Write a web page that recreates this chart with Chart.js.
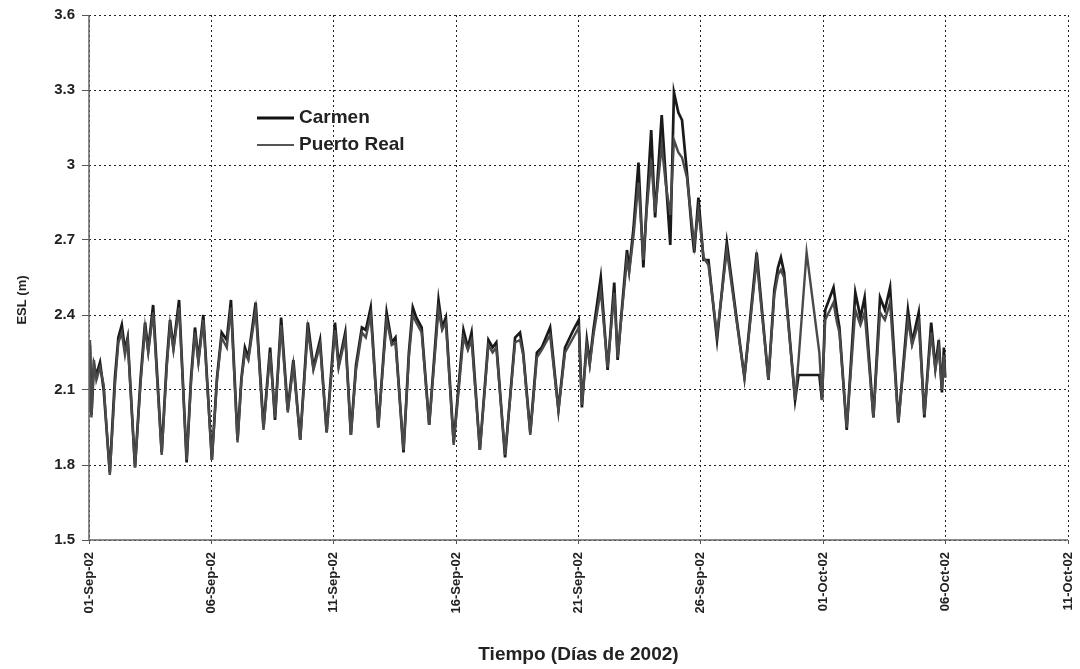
<!DOCTYPE html>
<html>
<head>
<meta charset="utf-8">
<script src="https://cdn.jsdelivr.net/npm/chart.js@4.4.1/dist/chart.umd.min.js"></script>
<style>
html,body{margin:0;padding:0;background:#fff;}
canvas{display:block;}
</style>
</head>
<body>
<canvas id="c" width="1080" height="669"></canvas>
<script>
// ---- data (time in days since 01-Sep-2002, ESL in metres) ----
const days = [0.00,0.04,0.10,0.20,0.30,0.45,0.60,0.85,1.06,1.20,1.34,1.47,1.58,1.88,2.11,2.29,2.42,2.62,2.97,3.17,3.31,3.45,3.68,3.99,4.17,4.33,4.47,4.67,5.02,5.23,5.42,5.63,5.80,6.07,6.23,6.37,6.51,6.81,7.13,7.40,7.60,7.85,8.12,8.35,8.63,8.94,9.17,9.44,9.71,10.05,10.20,10.47,10.70,10.91,11.15,11.31,11.51,11.82,12.16,12.37,12.52,12.85,13.07,13.23,13.37,13.59,13.90,14.28,14.43,14.58,14.90,15.30,15.48,15.63,15.97,16.32,16.49,16.64,17.00,17.41,17.61,17.74,18.03,18.30,18.50,18.84,19.18,19.45,19.79,20.01,20.14,20.34,20.46,20.61,20.91,21.19,21.46,21.60,21.76,21.98,22.07,22.25,22.45,22.65,22.77,22.97,23.13,23.40,23.57,23.75,23.90,24.08,24.23,24.43,24.63,24.73,24.90,25.11,25.31,25.66,26.06,26.44,26.78,27.28,27.76,28.00,28.15,28.27,28.40,28.85,28.99,29.32,29.84,29.95,30.08,30.42,30.56,30.66,30.96,31.31,31.52,31.69,32.05,32.32,32.52,32.73,33.07,33.46,33.63,33.90,34.13,34.41,34.58,34.72,34.85,34.93,34.98];

const carmen = [2.05,2.28,2.00,2.20,2.16,2.21,2.10,1.77,2.15,2.31,2.36,2.26,2.31,1.79,2.15,2.37,2.26,2.44,1.85,2.20,2.38,2.27,2.46,1.81,2.15,2.35,2.22,2.40,1.82,2.15,2.33,2.30,2.46,1.90,2.15,2.27,2.23,2.45,1.95,2.27,1.98,2.39,2.02,2.22,1.90,2.37,2.19,2.30,1.93,2.37,2.20,2.33,1.92,2.20,2.35,2.34,2.43,1.95,2.41,2.29,2.31,1.85,2.25,2.43,2.39,2.35,1.96,2.46,2.35,2.39,1.89,2.34,2.27,2.33,1.86,2.30,2.27,2.29,1.83,2.31,2.33,2.25,1.93,2.25,2.27,2.35,2.02,2.27,2.34,2.38,2.03,2.30,2.21,2.34,2.55,2.18,2.53,2.22,2.41,2.66,2.58,2.75,3.01,2.59,2.81,3.14,2.79,3.20,2.94,2.68,3.29,3.21,3.18,2.97,2.74,2.65,2.87,2.62,2.62,2.30,2.69,2.40,2.15,2.65,2.14,2.50,2.59,2.63,2.57,2.06,2.16,2.16,2.16,2.06,2.42,2.51,2.41,2.35,1.94,2.49,2.39,2.47,1.99,2.47,2.42,2.51,1.97,2.42,2.29,2.41,1.99,2.37,2.19,2.30,2.09,2.27,2.15];

const puertoReal = [2.02,2.30,1.99,2.22,2.14,2.19,2.12,1.76,2.12,2.29,2.33,2.24,2.30,1.79,2.13,2.35,2.25,2.41,1.84,2.18,2.36,2.26,2.43,1.82,2.13,2.33,2.21,2.38,1.82,2.14,2.31,2.27,2.43,1.89,2.14,2.25,2.22,2.42,1.94,2.25,1.99,2.36,2.01,2.20,1.90,2.34,2.18,2.28,1.93,2.34,2.19,2.31,1.92,2.18,2.33,2.31,2.40,1.95,2.38,2.28,2.29,1.86,2.23,2.40,2.37,2.33,1.96,2.42,2.34,2.37,1.88,2.31,2.26,2.30,1.86,2.28,2.25,2.27,1.84,2.29,2.30,2.24,1.92,2.23,2.26,2.32,2.02,2.25,2.31,2.35,2.04,2.28,2.20,2.32,2.50,2.19,2.49,2.23,2.40,2.62,2.57,2.72,2.93,2.62,2.80,3.02,2.81,3.08,2.92,2.80,3.10,3.05,3.03,2.95,2.77,2.68,2.82,2.63,2.60,2.32,2.66,2.39,2.15,2.62,2.14,2.48,2.56,2.58,2.55,2.06,2.22,2.65,2.25,2.06,2.38,2.45,2.37,2.33,1.95,2.42,2.36,2.41,1.99,2.41,2.38,2.45,1.97,2.38,2.28,2.37,2.00,2.33,2.18,2.27,2.10,2.24,2.15];

const xTickLabels = ['01-Sep-02','06-Sep-02','11-Sep-02','16-Sep-02','21-Sep-02','26-Sep-02','01-Oct-02','06-Oct-02','11-Oct-02'];
const yTickLabels = ['1.5','1.8','2.1','2.4','2.7','3','3.3','3.6'];
const seriesNames = ['Carmen','Puerto Real'];
const xTitle = 'Tiempo (Días de 2002)';
const yTitle = 'ESL (m)';

const FONT = '"Liberation Sans", Arial, Helvetica, sans-serif';

function pts(vals){ return vals.map((v,i)=>({x:days[i], y:v})); }

const overlay = {
  id:'overlay',
  afterDraw(chart){
    const ctx = chart.ctx;
    const a = chart.chartArea;
    ctx.save();
    // solid axis lines
    ctx.strokeStyle = '#666'; ctx.lineWidth = 1.5; ctx.setLineDash([]);
    ctx.beginPath();
    ctx.moveTo(a.left, a.top); ctx.lineTo(a.left, a.bottom); ctx.lineTo(a.right, a.bottom);
    ctx.stroke();
    // legend
    const items = [
      {name:seriesNames[0], color:'#111', w:2.8, y:118},
      {name:seriesNames[1], color:'#555', w:2.0, y:145}
    ];
    items.forEach(it=>{
      ctx.strokeStyle = it.color; ctx.lineWidth = it.w;
      ctx.beginPath(); ctx.moveTo(257,it.y); ctx.lineTo(294,it.y); ctx.stroke();
      ctx.fillStyle = '#222';
      ctx.font = 'bold 19px ' + FONT;
      ctx.textBaseline = 'middle'; ctx.textAlign = 'left';
      ctx.fillText(it.name, 299, it.y);
    });
    // axis titles
    ctx.fillStyle = '#222';
    ctx.font = 'bold 19px ' + FONT;
    ctx.textAlign = 'center'; ctx.textBaseline = 'middle';
    ctx.fillText(xTitle, (a.left + a.right)/2, 655);
    ctx.save();
    ctx.translate(22, 300);
    ctx.rotate(-Math.PI/2);
    ctx.font = 'bold 13px ' + FONT;
    ctx.fillText(yTitle, 0, 0);
    ctx.restore();
    ctx.restore();
  }
};

const bg = {
  id:'bg',
  beforeDraw(chart){ const c=chart.ctx; c.save(); c.fillStyle='#fff'; c.fillRect(0,0,chart.width,chart.height); c.restore(); }
};

new Chart(document.getElementById('c'), {
  type:'line',
  data:{
    datasets:[
      {label:seriesNames[0], data:pts(carmen), borderColor:'#1a1a1a', borderWidth:2.7, pointRadius:0, tension:0, order:1},
      {label:seriesNames[1], data:pts(puertoReal), borderColor:'#4a4a4a', borderWidth:2.4, pointRadius:0, tension:0, order:0}
    ]
  },
  options:{
    responsive:false,
    animation:false,
    devicePixelRatio:1,
    layout:{padding:{left:0,right:12,top:15,bottom:0}},
    plugins:{legend:{display:false}, tooltip:{enabled:false}},
    scales:{
      x:{
        type:'linear', min:0, max:40,
        afterFit(s){ s.height = 129; s.paddingLeft = 0; s.paddingRight = 0; },
        afterBuildTicks(s){ s.ticks = xTickLabels.map((_,i)=>({value:i*5})); },
        ticks:{
          autoSkip:false, maxRotation:90, minRotation:90, padding:8,
          color:'#222', font:{family:FONT, size:13, weight:'bold'},
          callback(v,i){ return xTickLabels[i]; }
        },
        grid:{color:'#222', lineWidth:1, tickLength:4, tickColor:'#555', tickBorderDash:[]},
        border:{display:false, dash:[2,3]},
        title:{display:false}
      },
      y:{
        type:'linear', min:1.5, max:3.6,
        afterFit(s){ s.width = 89; s.paddingTop = 0; s.paddingBottom = 0; },
        afterBuildTicks(s){ s.ticks = yTickLabels.map(t=>({value:parseFloat(t)})); },
        ticks:{
          padding:7, color:'#222', font:{family:FONT, size:15, weight:'bold'},
          callback(v,i){ return yTickLabels[i]; }
        },
        grid:{color:'#222', lineWidth:1, tickLength:7, tickColor:'#555', tickBorderDash:[]},
        border:{display:false, dash:[2,3]},
        title:{display:false}
      }
    }
  },
  plugins:[bg, overlay]
});
</script>
</body>
</html>
